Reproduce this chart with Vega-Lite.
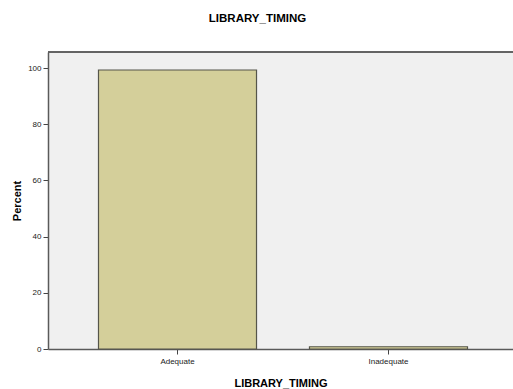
{
  "$schema": "https://vega.github.io/schema/vega-lite/v6.json",
  "autosize": {"type": "none"},
  "width": 465,
  "height": 297,
  "padding": {"left": 48, "top": 52, "right": 0, "bottom": 40},
  "background": "white",
  "config": {
    "view": {"stroke": null, "fill": "#f0f0f0"},
    "font": "Liberation Sans"
  },
  "title": {
    "text": "LIBRARY_TIMING",
    "font": "Liberation Sans",
    "fontSize": 11.5,
    "fontWeight": "bold",
    "color": "#000000",
    "anchor": "middle",
    "frame": "group",
    "dx": -23,
    "offset": 27
  },
  "data": {
    "values": [
      {"category": "Adequate", "percent": 99.3},
      {"category": "Inadequate", "percent": 0.8}
    ]
  },
  "layer": [
    {
      "mark": {"type": "bar", "fill": "#d4cf9a", "stroke": "#55554a", "strokeWidth": 1.2},
      "encoding": {
        "x": {
          "field": "category",
          "type": "nominal",
          "scale": {"paddingInner": 0.251, "paddingOuter": 0.2275, "align": 0.526},
          "axis": {
            "title": "LIBRARY_TIMING",
            "titleFontSize": 11,
            "titleFontWeight": "bold",
            "titleColor": "#000000",
            "titlePadding": 12,
            "labelAngle": 0,
            "labelFontSize": 8,
            "labelColor": "#222222",
            "labelPadding": 3,
            "tickSize": 5,
            "tickColor": "#444444",
            "domainColor": "#5a5a5a",
            "domainWidth": 1.5,
            "grid": false
          }
        },
        "y": {
          "field": "percent",
          "type": "quantitative",
          "scale": {"domain": [0, 105.7], "nice": false},
          "axis": {
            "title": "Percent",
            "titleFontSize": 11,
            "titleFontWeight": "bold",
            "titleColor": "#000000",
            "titlePadding": 5,
            "values": [0, 20, 40, 60, 80, 100],
            "labelFontSize": 8,
            "labelColor": "#222222",
            "labelPadding": 2,
            "tickSize": 5,
            "tickColor": "#444444",
            "domainColor": "#5a5a5a",
            "domainWidth": 1.5,
            "grid": false
          }
        }
      }
    },
    {
      "mark": {"type": "rule", "color": "#5a5a5a", "strokeWidth": 1.5},
      "encoding": {
        "y": {"datum": 105.7, "type": "quantitative"}
      }
    }
  ]
}
